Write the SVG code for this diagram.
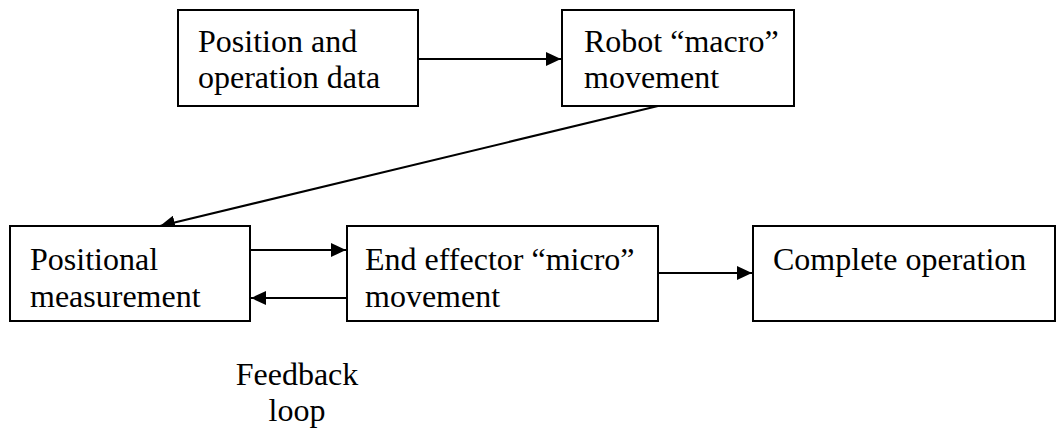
<svg xmlns="http://www.w3.org/2000/svg" width="1058" height="428" viewBox="0 0 1058 428">
  <style>
    .box { fill: #ffffff; stroke: #000000; stroke-width: 2; }
    .lbl { font-family: "Liberation Serif", "Times New Roman", serif; font-size: 32px; fill: #000000; }
    .edge { stroke: #000000; stroke-width: 2; fill: none; marker-end: url(#head); }
  </style>
  <defs>
    <marker id="head" viewBox="0 0 15 14" refX="15" refY="7" markerWidth="15" markerHeight="14" markerUnits="userSpaceOnUse" orient="auto">
      <path d="M0,0 L15,7 L0,14 Z" fill="#000000"/>
    </marker>
  </defs>
  <rect width="1058" height="428" fill="#ffffff"/>

  <g id="connectors">
    <line class="edge" x1="418" y1="59" x2="561" y2="59"/>
    <line class="edge" x1="658" y1="106" x2="160" y2="226"/>
    <line class="edge" x1="250" y1="250" x2="346" y2="250"/>
    <line class="edge" x1="347" y1="298" x2="251" y2="298"/>
    <line class="edge" x1="658" y1="273" x2="752" y2="273"/>
  </g>

  <g id="position-data">
    <rect class="box" x="178" y="10" width="240" height="96"/>
    <text class="lbl" x="198" y="52">Position and</text>
    <text class="lbl" x="198" y="88">operation data</text>
  </g>

  <g id="robot-macro">
    <rect class="box" x="562" y="10" width="232" height="96"/>
    <text class="lbl" x="584" y="52">Robot “macro”</text>
    <text class="lbl" x="584" y="88">movement</text>
  </g>

  <g id="positional-measurement">
    <rect class="box" x="10" y="226" width="240" height="95"/>
    <text class="lbl" x="30" y="270">Positional</text>
    <text class="lbl" x="30" y="307">measurement</text>
  </g>

  <g id="end-effector-micro">
    <rect class="box" x="347" y="226" width="311" height="95"/>
    <text class="lbl" x="365" y="270">End effector “micro”</text>
    <text class="lbl" x="365" y="307">movement</text>
  </g>

  <g id="complete-operation">
    <rect class="box" x="753" y="226" width="302" height="95"/>
    <text class="lbl" x="773" y="270">Complete operation</text>
  </g>

  <g id="feedback-label">
    <text class="lbl" x="297" y="385" text-anchor="middle">Feedback</text>
    <text class="lbl" x="297" y="421" text-anchor="middle">loop</text>
  </g>
</svg>
